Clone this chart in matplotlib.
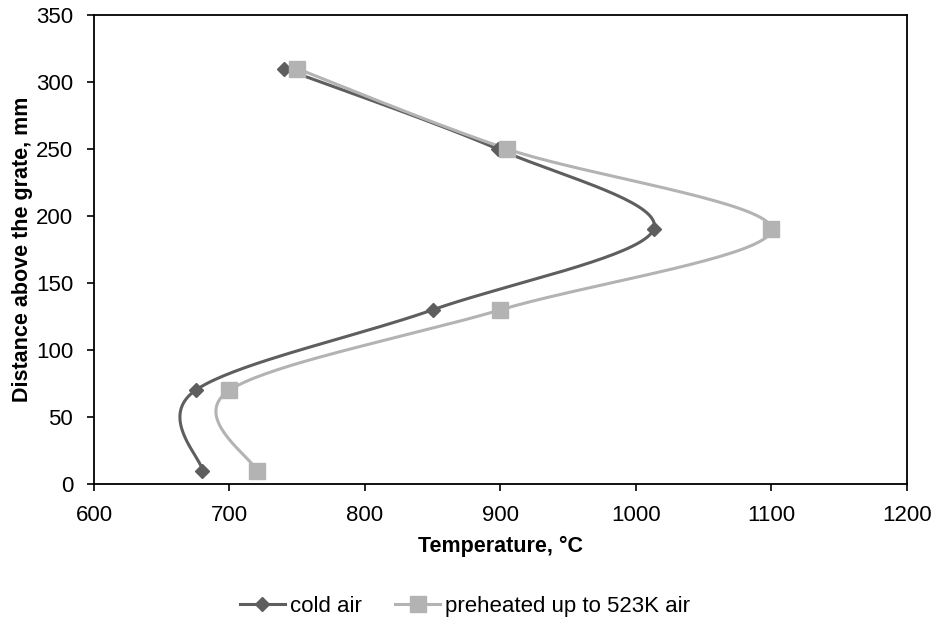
import numpy as np
import matplotlib
matplotlib.use('Agg')
import matplotlib.pyplot as plt

plt.rcParams['font.family'] = ['Liberation Sans', 'DejaVu Sans']

distance = [10, 70, 130, 190, 250, 310]
temp_cold = [680, 675, 850, 1013, 898, 740]
temp_preheated = [720, 700, 900, 1100, 905, 750]

series_names = ['cold air', 'preheated up to 523K air']
series_colors = ['#5e5e5e', '#b3b3b3']


def smooth_curve(ax, xs, ys, n=40):
    # Excel-like smoothed line: Catmull-Rom bezier in screen space
    pts = ax.transData.transform(np.column_stack([xs, ys]))
    pad = np.vstack([pts[0], pts, pts[-1]])
    out = []
    t = np.linspace(0, 1, n)[:, None]
    for i in range(1, len(pad) - 2):
        p0, p3 = pad[i], pad[i + 1]
        p1 = p0 + (pad[i + 1] - pad[i - 1]) / 6
        p2 = p3 - (pad[i + 2] - pad[i]) / 6
        seg = ((1 - t) ** 3) * p0 + 3 * ((1 - t) ** 2) * t * p1 \
            + 3 * (1 - t) * t ** 2 * p2 + t ** 3 * p3
        out.append(seg)
    out = np.vstack(out)
    data = ax.transData.inverted().transform(out)
    return data[:, 0], data[:, 1]


fig = plt.figure(figsize=(9.36, 6.21), dpi=100)
ax = fig.add_axes([0.1004, 0.2206, 0.8686, 0.7552])
ax.set_xlim(600, 1200)
ax.set_ylim(0, 350)
ax.set_xticks(range(600, 1201, 100))
ax.set_yticks(range(0, 351, 50))

markers = ['D', 's']
msizes = [7.6, 11.5]
handles = []
for temps, name, color, mk, ms in zip([temp_cold, temp_preheated], series_names,
                                      series_colors, markers, msizes):
    sx, sy = smooth_curve(ax, temps, distance)
    ax.plot(sx, sy, color=color, lw=2.2, zorder=2)
    ax.plot(temps, distance, linestyle='none', marker=mk, ms=ms, color=color, zorder=3)
    h, = ax.plot([], [], color=color, lw=2.2, marker=mk, ms=ms, label=name)
    handles.append(h)

ax.set_xlabel('Temperature, \u00b0C', fontsize=15.5, fontweight='bold', labelpad=7)
ax.set_ylabel('Distance above the grate, mm', fontsize=15.5, fontweight='bold', labelpad=2)
ax.tick_params(direction='out', labelsize=16, length=5, width=1.2, pad=10)
for s in ax.spines.values():
    s.set_linewidth(1.3)

fig.legend(handles=handles, loc='center', bbox_to_anchor=(0.497, 0.024), ncol=2,
           frameon=False, fontsize=16, handlelength=2.0, columnspacing=1.5,
           handletextpad=0.25, borderpad=0.2)

fig.savefig('out.png', dpi=100)
